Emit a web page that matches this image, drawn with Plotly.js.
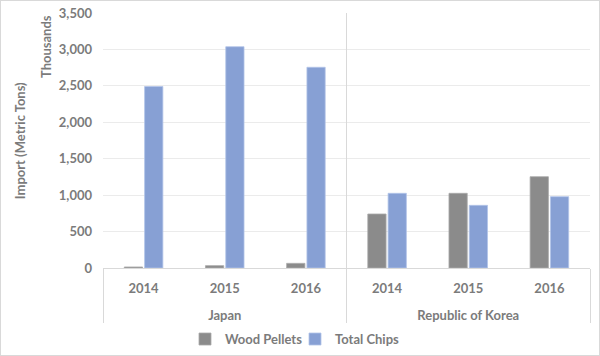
<!DOCTYPE html>
<html>
<head>
<meta charset="utf-8">
<script src="https://cdn.plot.ly/plotly-3.0.1.min.js"></script>
<style>
html,body{margin:0;padding:0;background:#fff;}
#chart{width:598px;height:354px;border:1px solid #d9d9d9;}
</style>
</head>
<body>
<div id="chart"></div>
<script>
const countries = ["Japan","Japan","Japan","Republic of Korea","Republic of Korea","Republic of Korea"];
const years = ["2014","2015","2016","2014","2015","2016"];
const woodPellets = [14, 32, 64, 741, 1025, 1253];
const totalChips = [2491, 3037, 2755, 1025, 860, 979];
const yTicks = [0, 500, 1000, 1500, 2000, 2500, 3000, 3500];
const yTickText = ["0", "500", "1,000", "1,500", "2,000", "2,500", "3,000", "3,500"];

const fontFam = "Lato, 'Open Sans', sans-serif";
const txtColor = "#7b7b7b";
const f = {size:13, color:txtColor, family:fontFam, weight:"bold"};

// year labels get an empty second line so the country row sits lower, as in the original
const yearLabels = years.map(y => y + "<br>&nbsp;");

const traces = [
  {type:"bar", name:"Wood Pellets", x:[countries, yearLabels], y:woodPellets,
   marker:{color:"#8b8b8b", line:{color:"#a9a9a9", width:0.8}}},
  {type:"bar", name:"Total Chips", x:[countries, yearLabels], y:totalChips,
   marker:{color:"#87a0d4", line:{color:"#b3c4e8", width:0.8}}}
];

const layout = {
  width:598, height:354,
  margin:{l:102, r:9, t:12, b:87},
  paper_bgcolor:"#fff", plot_bgcolor:"#fff",
  font:f,
  barmode:"group", bargap:0.5, bargroupgap:0.1,
  showlegend:true,
  legend:{orientation:"h", xref:"container", yref:"container", x:0.013, xanchor:"left", y:0.045, yanchor:"middle",
          font:f, itemwidth:30, entrywidth:65, entrywidthmode:"pixels", traceorder:"normal"},
  xaxis:{type:"multicategory", automargin:false, showline:true, linecolor:"#d9d9d9", linewidth:1,
         showgrid:false, ticks:"", showdividers:true, dividercolor:"#d9d9d9", dividerwidth:1,
         ticklabelstandoff:8, tickfont:f},
  yaxis:{range:[0,3500], automargin:false, tickvals:yTicks, ticktext:yTickText, showgrid:true, gridcolor:"#ebebeb",
         zeroline:false, showline:false, ticks:"", ticklabelstandoff:10, tickfont:f},
  annotations:[
    {text:"Import (Metric Tons)", xref:"paper", yref:"paper", x:-0.171, y:0.5, xanchor:"center", yanchor:"middle",
     textangle:-90, showarrow:false, font:f},
    {text:"Thousands", xref:"paper", yref:"paper", x:-0.118, y:1.0, xanchor:"center", yanchor:"top",
     textangle:-90, showarrow:false, font:f}
  ],
  shapes:[
    {type:"line", xref:"paper", yref:"paper", x0:0.5, x1:0.5, y0:0, y1:1, line:{color:"#d9d9d9", width:1}}
  ]
};

Plotly.newPlot("chart", traces, layout, {displayModeBar:false, staticPlot:true}).then(function(gd){
  // position legend so its first entry text starts close to where the original's does
  var items = gd.querySelectorAll('.legend .traces');
  if (items.length) {
    var t0 = items[0].querySelector('text').getBoundingClientRect();
    var box = gd.getBoundingClientRect();
    var shift = 226 - (t0.left - box.left + 1);
    Plotly.relayout(gd, {'legend.x': 0.013 + shift / 598});
  }
});
</script>
</body>
</html>
